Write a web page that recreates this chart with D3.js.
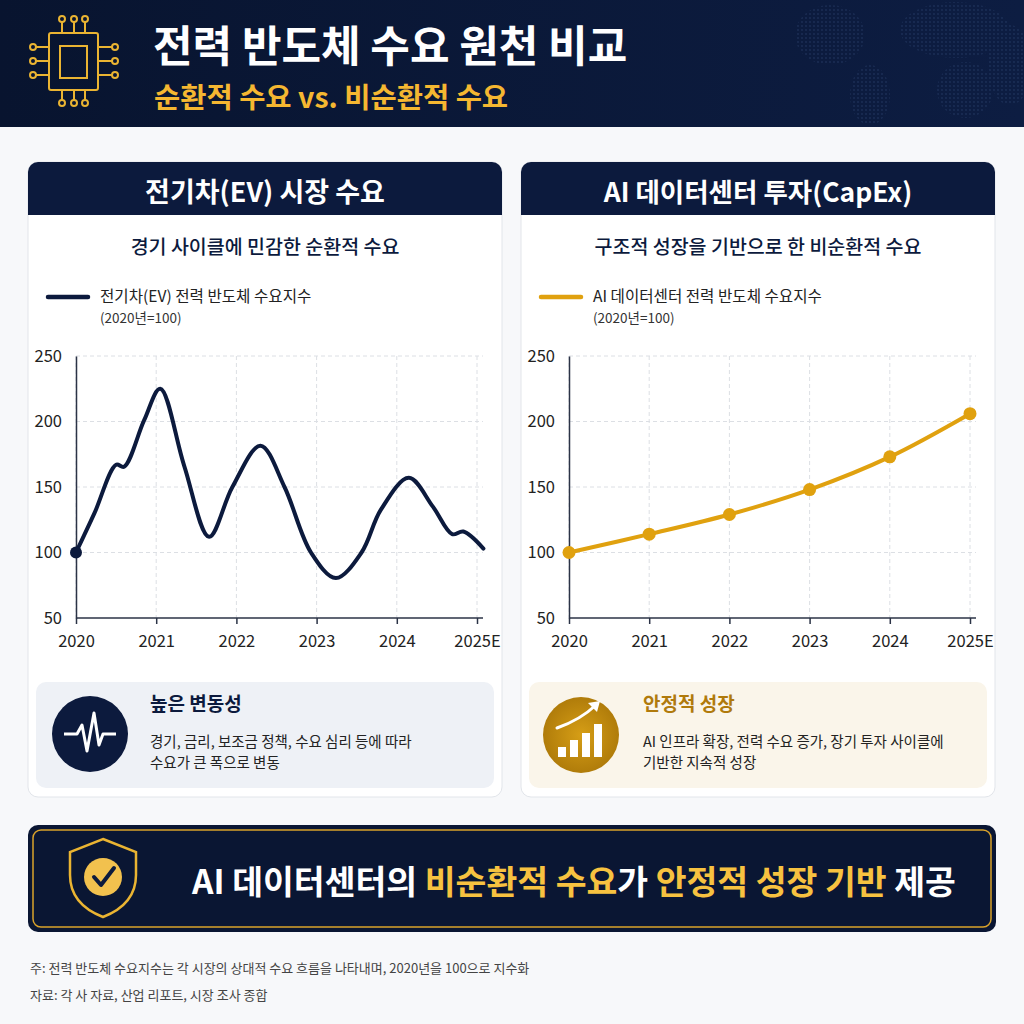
<!DOCTYPE html>
<html>
<head>
<meta charset="utf-8">
<script src="https://cdn.jsdelivr.net/npm/d3@7"></script>
<style>
  body { margin: 0; background: #f7f8fa; }
  svg { display: block; font-family: "Noto Sans CJK KR", "Noto Sans", sans-serif; }
</style>
</head>
<body>
<svg id="chart" width="1024" height="1024"></svg>
<script>
// 데이터
var yearTicks = [2020, 2021, 2022, 2023, 2024, 2025];
var yearLabels = ["2020", "2021", "2022", "2023", "2024", "2025E"];
var indexTicks = [50, 100, 150, 200, 250];

// 전기차(EV) 지수 - 곡선 위 관측 지점
var evYears = [2020, 2020.23, 2020.5, 2020.6, 2020.85, 2021.05, 2021.35, 2021.66, 2021.95, 2022.3,
               2022.6, 2022.93, 2023.24, 2023.56, 2023.8, 2024.15, 2024.45, 2024.69, 2024.83, 2025.08];
var evValues = [100, 130, 167, 165.5, 201, 225, 166, 112, 150, 181.5,
                150, 100, 80.5, 100, 132.5, 157, 135, 114, 116, 103];

// AI 데이터센터 지수
var aiYears = [2020, 2021, 2022, 2023, 2024, 2025];
var aiValues = [100, 114, 129, 148, 173, 206];

var navy = "#0c1a3d", gold = "#e0a10f";

var svg = d3.select("#chart");
var defs = svg.append("defs");

// ---------- 헤더 ----------
var hg = defs.append("linearGradient").attr("id", "hdr").attr("x1", 0).attr("x2", 1);
hg.append("stop").attr("offset", 0).attr("stop-color", "#08142f");
hg.append("stop").attr("offset", 1).attr("stop-color", "#0d1d42");
svg.append("rect").attr("x", 0).attr("y", 0).attr("width", 1024).attr("height", 127).attr("fill", "url(#hdr)");

// 세계지도 점 패턴
var pat = defs.append("pattern").attr("id", "dots").attr("width", 4).attr("height", 4).attr("patternUnits", "userSpaceOnUse");
pat.append("circle").attr("cx", 2).attr("cy", 2).attr("r", 0.9).attr("fill", "#5a7bb5");
var clip = defs.append("clipPath").attr("id", "mapclip");
[[830, 35, 35, 30], [870, 95, 20, 30], [955, 30, 55, 28], [965, 90, 28, 28], [1010, 65, 22, 40]].forEach(function(e) {
    clip.append("ellipse").attr("cx", e[0]).attr("cy", e[1]).attr("rx", e[2]).attr("ry", e[3]);
});
svg.append("rect").attr("x", 780).attr("y", 0).attr("width", 244).attr("height", 127)
    .attr("fill", "url(#dots)").attr("clip-path", "url(#mapclip)").attr("opacity", 0.2);

// 칩 아이콘
var chip = svg.append("g").attr("fill", "none").attr("stroke", "#eab432").attr("stroke-width", 2);
chip.append("rect").attr("x", 49).attr("y", 33).attr("width", 49).attr("height", 57).attr("rx", 2);
chip.append("rect").attr("x", 60).attr("y", 46).attr("width", 27).attr("height", 32);
[62, 74, 85].forEach(function(px) {
    chip.append("line").attr("x1", px).attr("x2", px).attr("y1", 22).attr("y2", 33);
    chip.append("circle").attr("cx", px).attr("cy", 19).attr("r", 3);
    chip.append("line").attr("x1", px).attr("x2", px).attr("y1", 90).attr("y2", 100);
    chip.append("circle").attr("cx", px).attr("cy", 103).attr("r", 3);
});
[47, 61, 75].forEach(function(py) {
    chip.append("line").attr("x1", 36).attr("x2", 49).attr("y1", py).attr("y2", py);
    chip.append("circle").attr("cx", 33).attr("cy", py).attr("r", 3);
    chip.append("line").attr("x1", 98).attr("x2", 112).attr("y1", py).attr("y2", py);
    chip.append("circle").attr("cx", 115).attr("cy", py).attr("r", 3);
});

svg.append("text").attr("x", 153).attr("y", 62).text("전력 반도체 수요 원천 비교")
    .attr("fill", "#fff").style("font-size", "43px").style("font-weight", 700);
svg.append("text").attr("x", 154).attr("y", 108).text("순환적 수요 vs. 비순환적 수요")
    .attr("fill", "#f5b731").style("font-size", "28.5px").style("font-weight", 700);

// ---------- 패널 ----------
var drawPanel = function(opt) {
    var x0 = opt.x0, w = 474;
    var g = svg.append("g");
    g.append("rect").attr("x", x0).attr("y", 162).attr("width", w).attr("height", 635).attr("rx", 10)
        .attr("fill", "#fff").attr("stroke", "#e2e5ea");
    // 상단 남색 띠
    g.append("path")
        .attr("d", `M${x0},215 V172 a10,10 0 0 1 10,-10 H${x0 + w - 10} a10,10 0 0 1 10,10 V215 Z`)
        .attr("fill", navy);
    g.append("text").attr("x", x0 + w / 2).attr("y", 202).attr("text-anchor", "middle").text(opt.title)
        .attr("fill", "#fff").style("font-size", opt.titleSize).style("font-weight", 700);
    g.append("text").attr("x", x0 + w / 2).attr("y", 254).attr("text-anchor", "middle").text(opt.subtitle)
        .attr("fill", navy).style("font-size", "19.5px").style("font-weight", 500);
    // 범례
    g.append("line").attr("x1", x0 + 20).attr("x2", x0 + 60).attr("y1", 297).attr("y2", 297)
        .attr("stroke", opt.color).attr("stroke-width", 4.5).attr("stroke-linecap", "round");
    g.append("text").attr("x", x0 + 72).attr("y", 302).text(opt.legend)
        .attr("fill", "#222").style("font-size", "15.6px");
    g.append("text").attr("x", x0 + 72).attr("y", 323).text("(2020년=100)")
        .attr("fill", "#333").style("font-size", "13.5px");

    // 스케일
    var xScale = d3.scaleLinear().domain([2020, 2025]).range([x0 + 48, x0 + 449]);
    var yScale = d3.scaleLinear().domain([50, 250]).range([618, 356]);
    var xEnd = x0 + 455;

    // 격자
    g.append("g").selectAll("line").data(yearTicks).enter().append("line")
        .attr("x1", d => xScale(d)).attr("x2", d => xScale(d))
        .attr("y1", yScale(250)).attr("y2", yScale(50))
        .attr("stroke", "#dcdfe4").attr("stroke-dasharray", "4,3");
    g.append("g").selectAll("line").data(indexTicks.slice(1)).enter().append("line")
        .attr("x1", xScale(2020)).attr("x2", xEnd)
        .attr("y1", d => yScale(d)).attr("y2", d => yScale(d))
        .attr("stroke", "#dcdfe4").attr("stroke-dasharray", "4,3");

    // 축
    var xAxis = d3.axisBottom(xScale).tickValues(yearTicks).tickSize(6).tickSizeOuter(0)
        .tickFormat((d, i) => yearLabels[i]);
    var yAxis = d3.axisLeft(yScale).tickValues(indexTicks).tickSize(0).tickPadding(12);
    var gx = g.append("g").attr("transform", `translate(0,${yScale(50)})`).call(xAxis);
    gx.select(".domain").attr("d", `M${xScale(2020)},0 H${xEnd}`);
    var gy = g.append("g").attr("transform", `translate(${xScale(2020)},0)`).call(yAxis);
    [gx, gy].forEach(function(a) {
        a.select(".domain").attr("stroke", "#2b3346").attr("stroke-width", 1.5);
        a.selectAll(".tick line").attr("stroke", "#2b3346").attr("stroke-width", 1.5);
        a.selectAll(".tick text").attr("fill", "#222").style("font-size", "16.5px")
            .style("font-family", "'Noto Sans CJK KR', sans-serif");
    });
    gx.selectAll(".tick text").attr("dy", "1.2em");
    gy.selectAll(".tick text").attr("dx", "-2px");

    // 선
    var pts = opt.xs.map((d, i) => ({x: d, y: opt.ys[i]}));
    var line = d3.line().x(d => xScale(d.x)).y(d => yScale(d.y)).curve(d3.curveCatmullRom.alpha(0.5));
    g.append("path").datum(pts).attr("d", line).attr("fill", "none")
        .attr("stroke", opt.color).attr("stroke-width", 4).attr("stroke-linecap", "round");
    g.append("g").selectAll("circle").data(opt.dots ? pts : pts.slice(0, 1)).enter().append("circle")
        .attr("cx", d => xScale(d.x)).attr("cy", d => yScale(d.y)).attr("r", opt.dots ? 6.5 : 6)
        .attr("fill", opt.color);

    // 하단 설명 박스
    g.append("rect").attr("x", x0 + 8).attr("y", 682).attr("width", w - 16).attr("height", 106).attr("rx", 10)
        .attr("fill", opt.boxFill);
    g.append("text").attr("x", x0 + 122).attr("y", 711).text(opt.boxTitle)
        .attr("fill", opt.boxTitleColor).style("font-size", "19px").style("font-weight", 700);
    opt.boxLines.forEach(function(t, i) {
        g.append("text").attr("x", x0 + 122).attr("y", 747 + i * 21).text(t)
            .attr("fill", "#222").style("font-size", "14.5px");
    });
    return g;
};

drawPanel({
    x0: 28, title: "전기차(EV) 시장 수요", titleSize: "27px", subtitle: "경기 사이클에 민감한 순환적 수요",
    legend: "전기차(EV) 전력 반도체 수요지수", color: navy, xs: evYears, ys: evValues, dots: false,
    boxFill: "#eef1f6", boxTitle: "높은 변동성", boxTitleColor: navy,
    boxLines: ["경기, 금리, 보조금 정책, 수요 심리 등에 따라", "수요가 큰 폭으로 변동"]
});
drawPanel({
    x0: 521, title: "AI 데이터센터 투자(CapEx)", titleSize: "26.5px", subtitle: "구조적 성장을 기반으로 한 비순환적 수요",
    legend: "AI 데이터센터 전력 반도체 수요지수", color: gold, xs: aiYears, ys: aiValues, dots: true,
    boxFill: "#faf5ea", boxTitle: "안정적 성장", boxTitleColor: "#b07a0c",
    boxLines: ["AI 인프라 확장, 전력 수요 증가, 장기 투자 사이클에", "기반한 지속적 성장"]
});

// 변동성 아이콘
svg.append("circle").attr("cx", 90).attr("cy", 734).attr("r", 38).attr("fill", navy);
svg.append("polyline")
    .attr("points", [[-26, 0], [-13, 0], [-8, -9], [-3, 17], [4, -21], [9, 11], [13, 0], [26, 0]]
        .map(p => (90 + p[0]) + "," + (734 + p[1])).join(" "))
    .attr("fill", "none").attr("stroke", "#fff").attr("stroke-width", 3).attr("stroke-linejoin", "round");

// 성장 아이콘
var gg = defs.append("radialGradient").attr("id", "goldc");
gg.append("stop").attr("offset", 0).attr("stop-color", "#d69e16");
gg.append("stop").attr("offset", 1).attr("stop-color", "#b07c0a");
svg.append("circle").attr("cx", 581).attr("cy", 735).attr("r", 38).attr("fill", "url(#goldc)");
[[-23, 10], [-11, 17], [1, 24], [13, 33]].forEach(function(b) {
    svg.append("rect").attr("x", 581 + b[0]).attr("y", 757 - b[1]).attr("width", 8).attr("height", b[1]).attr("fill", "#fff");
});
svg.append("path").attr("d", "M557,728 Q580,720 596,705").attr("fill", "none")
    .attr("stroke", "#fff").attr("stroke-width", 3).attr("stroke-linecap", "round");
svg.append("path").attr("d", "M600,701 L588,703 L597,712 Z").attr("fill", "#fff");

// ---------- 하단 배너 ----------
svg.append("rect").attr("x", 28).attr("y", 825).attr("width", 968).attr("height", 107).attr("rx", 10).attr("fill", "#0a1633");
svg.append("rect").attr("x", 33).attr("y", 830).attr("width", 958).attr("height", 97).attr("rx", 8)
    .attr("fill", "none").attr("stroke", "#d9a22b").attr("stroke-width", 1.5);
svg.append("path").attr("d", "M103,839 L136,852 L136,875 C136,897 121,910 103,917 C85,910 70,897 70,875 L70,852 Z")
    .attr("fill", "none").attr("stroke", "#eab432").attr("stroke-width", 2.5);
svg.append("circle").attr("cx", 103).attr("cy", 877).attr("r", 19).attr("fill", "#f2c14e");
svg.append("polyline").attr("points", "94,877 101,885 114,868").attr("fill", "none")
    .attr("stroke", navy).attr("stroke-width", 4).attr("stroke-linecap", "round").attr("stroke-linejoin", "round");

var banner = [["AI 데이터센터의 ", "#fff"], ["비순환적 수요", "#f7c240"], ["가 ", "#fff"],
              ["안정적 성장 기반", "#f7c240"], [" 제공", "#fff"]];
var bt = svg.append("text").attr("x", 574).attr("y", 894).attr("text-anchor", "middle")
    .style("font-size", "33.5px").style("font-weight", 700).attr("xml:space", "preserve");
banner.forEach(function(s) { bt.append("tspan").text(s[0]).attr("fill", s[1]); });

// ---------- 주석 ----------
svg.append("text").attr("x", 30).attr("y", 973).text("주: 전력 반도체 수요지수는 각 시장의 상대적 수요 흐름을 나타내며, 2020년을 100으로 지수화")
    .attr("fill", "#444").style("font-size", "13px");
svg.append("text").attr("x", 30).attr("y", 1000).text("자료: 각 사 자료, 산업 리포트, 시장 조사 종합")
    .attr("fill", "#444").style("font-size", "13px");
</script>
</body>
</html>
